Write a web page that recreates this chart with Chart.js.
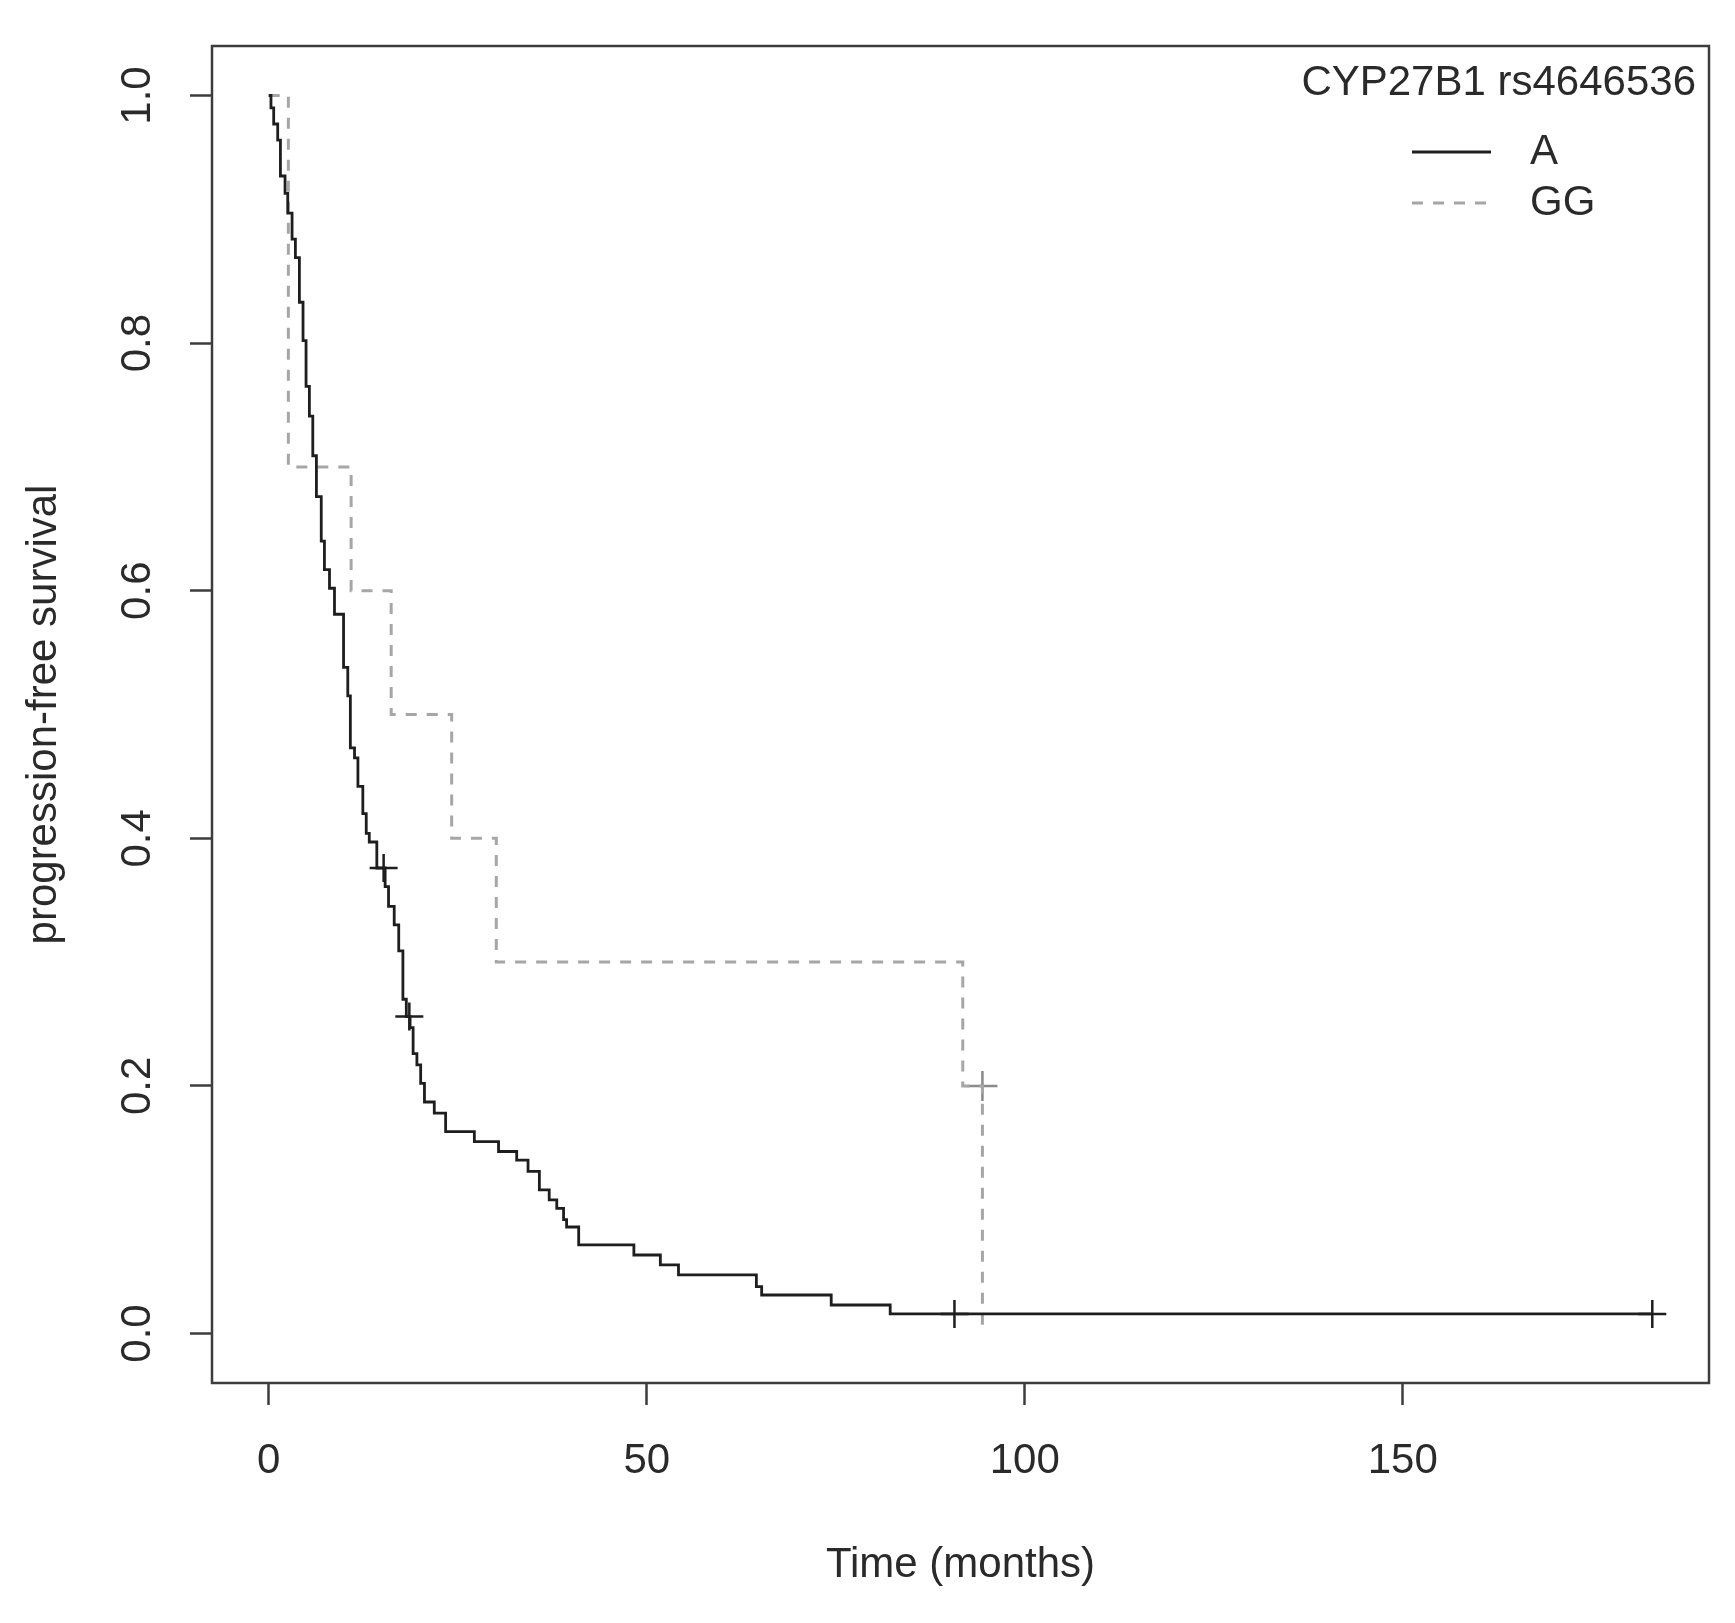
<!DOCTYPE html>
<html>
<head>
<meta charset="utf-8">
<script src="https://cdn.jsdelivr.net/npm/chart.js@4/dist/chart.umd.min.js"></script>
<style>
  html, body { margin: 0; padding: 0; background: #fff; }
  canvas { display: block; }
</style>
</head>
<body>
<canvas id="km" width="1735" height="1623"></canvas>
<script>
// Kaplan-Meier steps (time in months, survival after the drop)
const aTimes = [0, 0.3, 0.66, 1.19, 1.55, 2.16, 2.52, 3.09, 3.53, 4.06, 4.54, 4.94, 5.38, 5.83, 6.31,
  6.95, 7.37, 8.04, 8.7, 9.9, 10.46, 10.8, 11.35, 11.8, 12.45, 12.9, 13.3, 14.3, 15.4, 15.85,
  16.6, 17.2, 17.75, 18.2, 18.7, 19.1, 19.6, 20.1, 20.6, 21.9, 23.4, 27.2, 30.4, 32.8, 34.3,
  35.8, 37.1, 38.1, 39.0, 39.4, 41.0, 48.3, 51.8, 54.2, 64.5, 65.2, 74.4, 82.2, 183];
const aSurv = [1, 0.99, 0.977, 0.964, 0.935, 0.921, 0.905, 0.884, 0.869, 0.833, 0.802, 0.765, 0.741, 0.709, 0.676,
  0.640, 0.617, 0.602, 0.581, 0.538, 0.515, 0.473, 0.465, 0.442, 0.420, 0.404, 0.397, 0.376, 0.361, 0.345,
  0.330, 0.309, 0.270, 0.256, 0.247, 0.226, 0.217, 0.202, 0.187, 0.178, 0.163, 0.155, 0.147, 0.140, 0.131,
  0.116, 0.108, 0.101, 0.092, 0.086, 0.0715, 0.0634, 0.0554, 0.0473, 0.0378, 0.0311, 0.023, 0.0158, 0.0158];
const aCensorTimes = [15.2, 18.6, 90.7, 183];
const aCensorSurv = [0.376, 0.256, 0.0158, 0.0158];

const ggTimes = [0, 2.6, 10.9, 16.2, 24.2, 30.1, 91.8, 94.4];
const ggSurv = [1, 0.7, 0.6, 0.5, 0.4, 0.3, 0.2, 0];
const ggCensorTimes = [94.4];
const ggCensorSurv = [0.2];

const groupLabels = ["A", "GG"];
const legendTitle = "CYP27B1 rs4646536";
const xTicks = [0, 50, 100, 150];
const yTicks = [0, 0.2, 0.4, 0.6, 0.8, 1.0];

const FONT = "Liberation Sans, Arial, sans-serif";
const TEXT = "#2a2a2a";
const AXIS = "#3c3c3c";

function pts(xs, ys) {
  return xs.map((x, i) => ({ x: x, y: ys[i] }));
}

// box, rotated y labels and the legend, drawn R-style
const rStyle = {
  id: "rStyle",
  afterDraw(chart) {
    const ctx = chart.ctx;
    const area = chart.chartArea;
    const yScale = chart.scales.y;
    ctx.save();
    ctx.strokeStyle = AXIS;
    ctx.lineWidth = 2.5;
    ctx.strokeRect(area.left, area.top, area.right - area.left, area.bottom - area.top);

    ctx.fillStyle = TEXT;
    ctx.font = "42px " + FONT;
    ctx.textAlign = "center";
    ctx.textBaseline = "middle";
    yTicks.forEach(v => {
      ctx.save();
      ctx.translate(138, yScale.getPixelForValue(v));
      ctx.rotate(-Math.PI / 2);
      ctx.fillText(v.toFixed(1), 0, 0);
      ctx.restore();
    });

    ctx.textAlign = "right";
    ctx.fillText(legendTitle, 1696, 83);
    const ds = chart.data.datasets;
    [0, 1].forEach(i => {
      const y = 152 + i * 51;
      ctx.beginPath();
      ctx.strokeStyle = ds[i].borderColor;
      ctx.lineWidth = ds[i].borderWidth;
      ctx.setLineDash(ds[i].borderDash || []);
      ctx.moveTo(1412, y);
      ctx.lineTo(1491, y);
      ctx.stroke();
      ctx.setLineDash([]);
      ctx.textAlign = "left";
      ctx.fillText(ds[i].label, 1530, y);
    });
    ctx.restore();
  }
};

new Chart(document.getElementById("km").getContext("2d"), {
  type: "line",
  data: {
    datasets: [
      {
        label: groupLabels[0],
        data: pts(aTimes, aSurv),
        stepped: "before",
        borderColor: "#1e1e1e",
        borderWidth: 2.8,
        pointRadius: 0,
        fill: false
      },
      {
        label: groupLabels[1],
        data: pts(ggTimes, ggSurv),
        stepped: "before",
        borderColor: "#a6a6a6",
        borderWidth: 3,
        borderDash: [11, 10],
        pointRadius: 0,
        fill: false
      },
      {
        type: "scatter",
        label: groupLabels[0] + " censored",
        data: pts(aCensorTimes, aCensorSurv),
        showLine: false,
        pointStyle: "cross",
        pointRadius: 14,
        pointBorderWidth: 2.5,
        pointBorderColor: "#1e1e1e"
      },
      {
        type: "scatter",
        label: groupLabels[1] + " censored",
        data: pts(ggCensorTimes, ggCensorSurv),
        showLine: false,
        pointStyle: "cross",
        pointRadius: 15,
        pointBorderWidth: 2.5,
        pointBorderColor: "#8a8a8a"
      }
    ]
  },
  options: {
    responsive: false,
    animation: false,
    devicePixelRatio: 1,
    layout: { padding: { top: 46, right: 26, left: 0, bottom: 0 } },
    plugins: {
      legend: { display: false },
      tooltip: { enabled: false }
    },
    scales: {
      x: {
        type: "linear",
        min: -7.5,
        max: 190.5,
        afterBuildTicks: s => { s.ticks = xTicks.map(v => ({ value: v })); },
        afterFit: s => { s.height = 240; },
        grid: {
          drawOnChartArea: false,
          drawTicks: true,
          tickLength: 22,
          tickWidth: 2.5,
          tickColor: AXIS
        },
        border: { display: false },
        ticks: {
          padding: 31,
          maxRotation: 0,
          color: TEXT,
          font: { family: FONT, size: 42 }
        },
        title: {
          display: true,
          text: "Time (months)",
          color: TEXT,
          padding: { top: 0, bottom: 32 },
          font: { family: FONT, size: 42 }
        }
      },
      y: {
        type: "linear",
        min: -0.04,
        max: 1.04,
        afterBuildTicks: s => { s.ticks = yTicks.map(v => ({ value: v })); },
        afterFit: s => { s.width = 212; },
        grid: {
          drawOnChartArea: false,
          drawTicks: true,
          tickLength: 22,
          tickWidth: 2.5,
          tickColor: AXIS
        },
        border: { display: false },
        ticks: { display: false },
        title: {
          display: true,
          text: "progression-free survival",
          color: TEXT,
          padding: { top: 19, bottom: 0 },
          font: { family: FONT, size: 42 }
        }
      }
    }
  },
  plugins: [rStyle]
});
</script>
</body>
</html>
